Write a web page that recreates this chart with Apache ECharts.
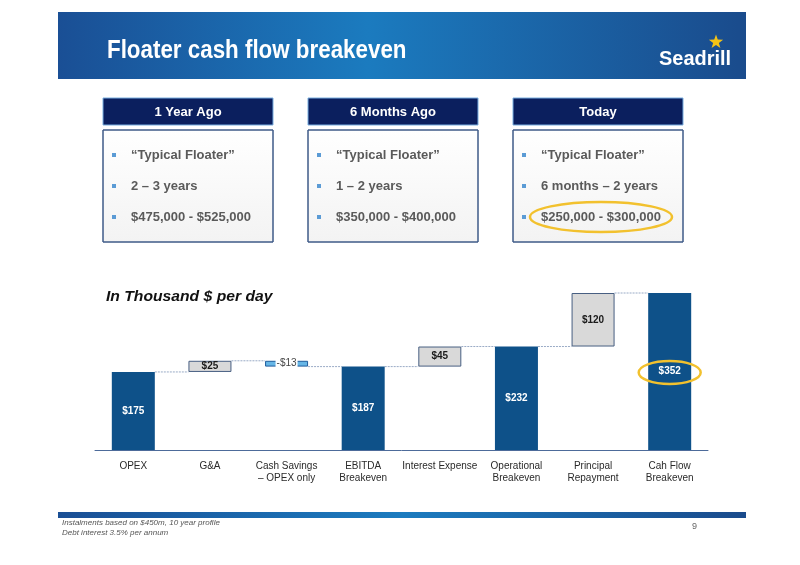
<!DOCTYPE html>
<html><head><meta charset="utf-8">
<script src="https://cdn.jsdelivr.net/npm/echarts@6/dist/echarts.min.js"></script>
<style>html,body{margin:0;padding:0;background:#fff}#c{width:800px;height:565px}</style>
</head><body><div id="c"></div>
<script>
// ---------- data ----------
const categories = ['OPEX', 'G&A', 'Cash Savings\n– OPEX only', 'EBITDA\nBreakeven', 'Interest Expense', 'Operational\nBreakeven', 'Principal\nRepayment', 'Cah Flow\nBreakeven'];
const values = [175, 25, -13, 187, 45, 232, 120, 352];
const kinds = ['total', 'delta', 'delta', 'total', 'delta', 'total', 'delta', 'total'];
const valueLabels = ['$175', '$25', '-$13', '$187', '$45', '$232', '$120', '$352'];
const highlightIndex = 7;
const panelTitles = ['1 Year Ago', '6 Months Ago', 'Today'];
const panelLines = [
  ['“Typical Floater”', '2 – 3 years', '$475,000 - $525,000'],
  ['“Typical Floater”', '1 – 2 years', '$350,000 - $400,000'],
  ['“Typical Floater”', '6 months – 2 years', '$250,000 - $300,000']
];
const pageTitle = 'Floater cash flow breakeven';
const logoText = 'Seadrill';
const unitLabel = 'In Thousand $ per day';
const footnotes = ['Instalments based on $450m, 10 year profile', 'Debt interest 3.5% per annum'];
const pageNumber = '9';

// ---------- waterfall build ----------
const baseData = [], barData = [], connectorData = [];
let running = 0;
values.forEach((v, i) => {
  let base, h;
  if (kinds[i] === 'total') { base = 0; h = v; running = v; }
  else if (v >= 0) { base = running; h = v; running += v; }
  else { base = running + v; h = -v; running += v; }
  baseData.push(base);
  const isTotal = kinds[i] === 'total';
  const isNeg = v < 0;
  barData.push({
    value: h,
    itemStyle: isTotal ? { color: '#0e5189' }
      : isNeg ? { color: '#66b6e6', borderColor: '#1f5c9c', borderWidth: 1 }
      : { color: '#d9d9d9', borderColor: '#485f82', borderWidth: 1 },
    label: isTotal ? { color: '#ffffff' }
      : isNeg ? { color: '#444', backgroundColor: '#ffffff', padding: [0, 1], fontWeight: 'normal' }
      : { color: '#1a1a1a' }
  });
  if (i < values.length - 1) connectorData.push([i, running]);
});

const FONT = '"Liberation Sans", Arial, sans-serif';

// ---------- decorative graphics ----------
const g = [];
// banner
g.push({ type: 'rect', shape: { x: 58, y: 12, width: 688, height: 67 }, style: { fill: { type: 'linear', x: 0, y: 0, x2: 1, y2: 0, colorStops: [{ offset: 0, color: '#1a4f95' }, { offset: 0.45, color: '#1b7bbf' }, { offset: 1, color: '#1a4b8c' }] } }, z: 1 });
g.push({ type: 'text', x: 107, y: 51, scaleX: 0.86, style: { text: pageTitle, x: 0, y: 0, font: 'bold 26px ' + FONT, fill: '#ffffff', textVerticalAlign: 'middle' }, z: 2 });
g.push({ type: 'text', x: 659, y: 59, scaleX: 0.95, style: { text: logoText, x: 0, y: 0, font: 'bold 21px ' + FONT, fill: '#ffffff', textVerticalAlign: 'middle' }, z: 2 });
// star on logo
(function () {
  const cx = 716, cy = 42, R = 7.5, r = 3;
  const pts = [];
  for (let k = 0; k < 10; k++) {
    const a = -Math.PI / 2 + k * Math.PI / 5;
    const rr = k % 2 === 0 ? R : r;
    pts.push([cx + rr * Math.cos(a), cy + rr * Math.sin(a)]);
  }
  g.push({ type: 'polygon', shape: { points: pts }, style: { fill: '#f3c316' }, z: 3 });
})();
// panels
const panelX = [103, 308, 513], panelW = 170;
panelTitles.forEach((t, p) => {
  const x = panelX[p];
  g.push({ type: 'rect', shape: { x: x, y: 98, width: panelW, height: 27 }, style: { fill: '#0b1f5e', stroke: '#79aee0', lineWidth: 1 }, z: 1 });
  g.push({ type: 'text', style: { text: t, x: x + panelW / 2, y: 112, font: 'bold 13px ' + FONT, fill: '#ffffff', textAlign: 'center', textVerticalAlign: 'middle' }, z: 2 });
  g.push({ type: 'rect', shape: { x: x, y: 130, width: panelW, height: 112 }, style: { fill: { type: 'linear', x: 0, y: 0, x2: 0, y2: 1, colorStops: [{ offset: 0, color: '#ffffff' }, { offset: 1, color: '#f3f3f3' }] }, stroke: '#3e5a88', lineWidth: 1 }, z: 1 });
  panelLines[p].forEach((line, j) => {
    const y = 155 + j * 31;
    g.push({ type: 'rect', shape: { x: x + 9, y: y - 2, width: 4, height: 4 }, style: { fill: '#5b9bd5' }, z: 2 });
    g.push({ type: 'text', style: { text: line, x: x + 28, y: y, font: 'bold 13px ' + FONT, fill: '#5a5a5a', textVerticalAlign: 'middle' }, z: 2 });
  });
});
// highlight ellipse around today's range
g.push({ type: 'ellipse', shape: { cx: 601, cy: 217, rx: 71, ry: 15 }, style: { fill: 'none', stroke: '#f2c12e', lineWidth: 2.5 }, z: 5 });
// unit label
g.push({ type: 'text', x: 106, y: 297, scaleX: 1.12, style: { text: unitLabel, x: 0, y: 0, font: 'italic bold 14px ' + FONT, fill: '#111', textVerticalAlign: 'middle' }, z: 2 });
// footer
g.push({ type: 'rect', shape: { x: 58, y: 512, width: 688, height: 6 }, style: { fill: { type: 'linear', x: 0, y: 0, x2: 1, y2: 0, colorStops: [{ offset: 0, color: '#1a4f95' }, { offset: 0.5, color: '#1b7bbf' }, { offset: 1, color: '#1a4b8c' }] } }, z: 1 });
footnotes.forEach((f, j) => {
  g.push({ type: 'text', style: { text: f, x: 62, y: 523 + j * 10, font: 'italic 8px ' + FONT, fill: '#555', textVerticalAlign: 'middle' }, z: 2 });
});
g.push({ type: 'text', style: { text: pageNumber, x: 692, y: 527, font: '9px ' + FONT, fill: '#666', textVerticalAlign: 'middle' }, z: 2 });

const chart = echarts.init(document.getElementById('c'), null, { renderer: 'canvas' });
const option = {
  animation: false,
  backgroundColor: '#ffffff',
  textStyle: { fontFamily: FONT },
  grid: { left: 95, right: 92, top: 293, bottom: 115 },
  xAxis: {
    type: 'category', data: categories,
    axisLine: { lineStyle: { color: '#4d6b9a', width: 1 } },
    axisTick: { show: false },
    axisLabel: { interval: 0, color: '#2a2a2a', fontSize: 10, lineHeight: 12, margin: 10, fontFamily: FONT }
  },
  yAxis: { type: 'value', min: 0, max: 352, show: false, splitLine: { show: false } },
  series: [
    { type: 'bar', stack: 'wf', data: baseData, barWidth: 43, itemStyle: { color: 'rgba(0,0,0,0)' }, silent: true },
    {
      type: 'bar', stack: 'wf', data: barData, barWidth: 43,
      label: { show: true, position: 'inside', fontSize: 10, fontWeight: 'bold', fontFamily: FONT, formatter: p => valueLabels[p.dataIndex] }
    },
    {
      type: 'custom', data: connectorData, encode: { x: 0, y: 1 }, silent: true, z: 1,
      renderItem: function (params, api) {
        const p = api.coord([api.value(0), api.value(1)]);
        const bw = api.size([1, 0])[0];
        const half = 21.5;
        return { type: 'line', shape: { x1: p[0] + half, y1: p[1], x2: p[0] + bw - half, y2: p[1] }, style: { stroke: '#9aabc6', lineWidth: 1, lineDash: [2, 1] } };
      }
    }
  ],
  graphic: g
};
chart.setOption(option);
// ellipse around the highlighted bar label
const c = chart.convertToPixel({ gridIndex: 0 }, [highlightIndex, values[highlightIndex] / 2]);
g.push({ type: 'ellipse', shape: { cx: c[0], cy: c[1] + 1, rx: 31, ry: 11.5 }, style: { fill: 'none', stroke: '#f2c12e', lineWidth: 2.5 }, z: 5 });
chart.setOption({ graphic: g });
</script>
</body></html>
